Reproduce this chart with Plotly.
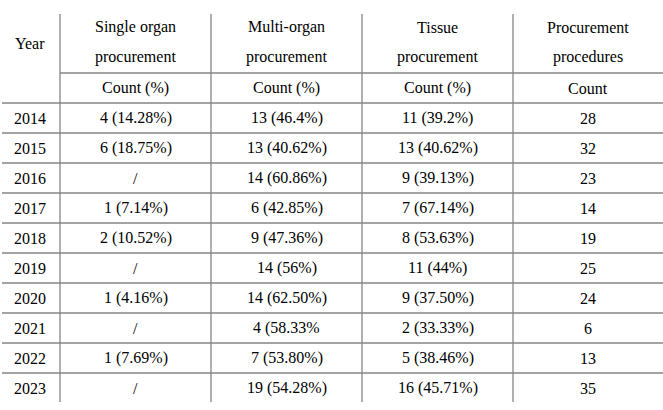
import plotly.graph_objects as go

years = ["2014", "2015", "2016", "2017", "2018", "2019", "2020", "2021", "2022", "2023"]
single_organ = ["4 (14.28%)", "6 (18.75%)", "/", "1 (7.14%)", "2 (10.52%)", "/", "1 (4.16%)", "/", "1 (7.69%)", "/"]
multi_organ = ["13 (46.4%)", "13 (40.62%)", "14 (60.86%)", "6 (42.85%)", "9 (47.36%)", "14 (56%)", "14 (62.50%)", "4 (58.33%", "7 (53.80%)", "19 (54.28%)"]
tissue = ["11 (39.2%)", "13 (40.62%)", "9 (39.13%)", "7 (67.14%)", "8 (53.63%)", "11 (44%)", "9 (37.50%)", "2 (33.33%)", "5 (38.46%)", "16 (45.71%)"]
procedures = ["28", "32", "23", "14", "19", "25", "24", "6", "13", "35"]

header_top = ["Single organ", "Multi-organ", "Tissue", "Procurement"]
header_mid = ["procurement", "procurement", "procurement", "procedures"]
header_sub = ["Count (%)", "Count (%)", "Count (%)", "Count"]

W, H = 663, 410
col_edges = [0, 60, 211, 362, 513, 663]
col_centers = [(col_edges[i] + col_edges[i + 1]) / 2 for i in range(5)]
row_top = 103
row_h = 30
line_color = "#858585"
font = dict(family="Liberation Serif, Times New Roman, serif", size=16, color="#000000")

fig = go.Figure()
fig.add_trace(go.Scatter(x=[0, W], y=[0, H], mode="markers", marker=dict(opacity=0), hoverinfo="skip", showlegend=False))

annotations = []
def txt(x, y, t):
    annotations.append(dict(x=x, y=y, text=t, showarrow=False, xref="x", yref="y",
                            xanchor="center", yanchor="middle", font=font))

txt(col_centers[0], 43, "Year")
for i in range(4):
    txt(col_centers[i + 1], 27, header_top[i])
    txt(col_centers[i + 1], 57, header_mid[i])
    txt(col_centers[i + 1], 88, header_sub[i])

cols = [years, single_organ, multi_organ, tissue, procedures]
for r in range(len(years)):
    yc = row_top + row_h * r + row_h / 2
    for c in range(5):
        txt(col_centers[c], yc, cols[c][r])

shapes = []
def line(x0, y0, x1, y1):
    shapes.append(dict(type="line", x0=x0, y0=y0, x1=x1, y1=y1, xref="x", yref="y",
                       line=dict(color=line_color, width=1.3)))

for x in col_edges[1:5]:
    line(x, 14, x, 402)
line(col_edges[1], 73, W, 73)
for r in range(len(years)):
    y = row_top + row_h * r
    line(2, y, W, y)

fig.update_layout(
    width=W, height=H,
    margin=dict(l=0, r=0, t=0, b=0),
    paper_bgcolor="white", plot_bgcolor="white",
    font=dict(family="Liberation Serif, Times New Roman, serif"),
    xaxis=dict(range=[0, W], visible=False, fixedrange=True),
    yaxis=dict(range=[H, 0], visible=False, fixedrange=True),
    annotations=annotations, shapes=shapes,
)
fig.write_html("out.html", config=dict(displayModeBar=False),
               post_script="document.body.style.margin='0';document.body.style.overflow='hidden';")
